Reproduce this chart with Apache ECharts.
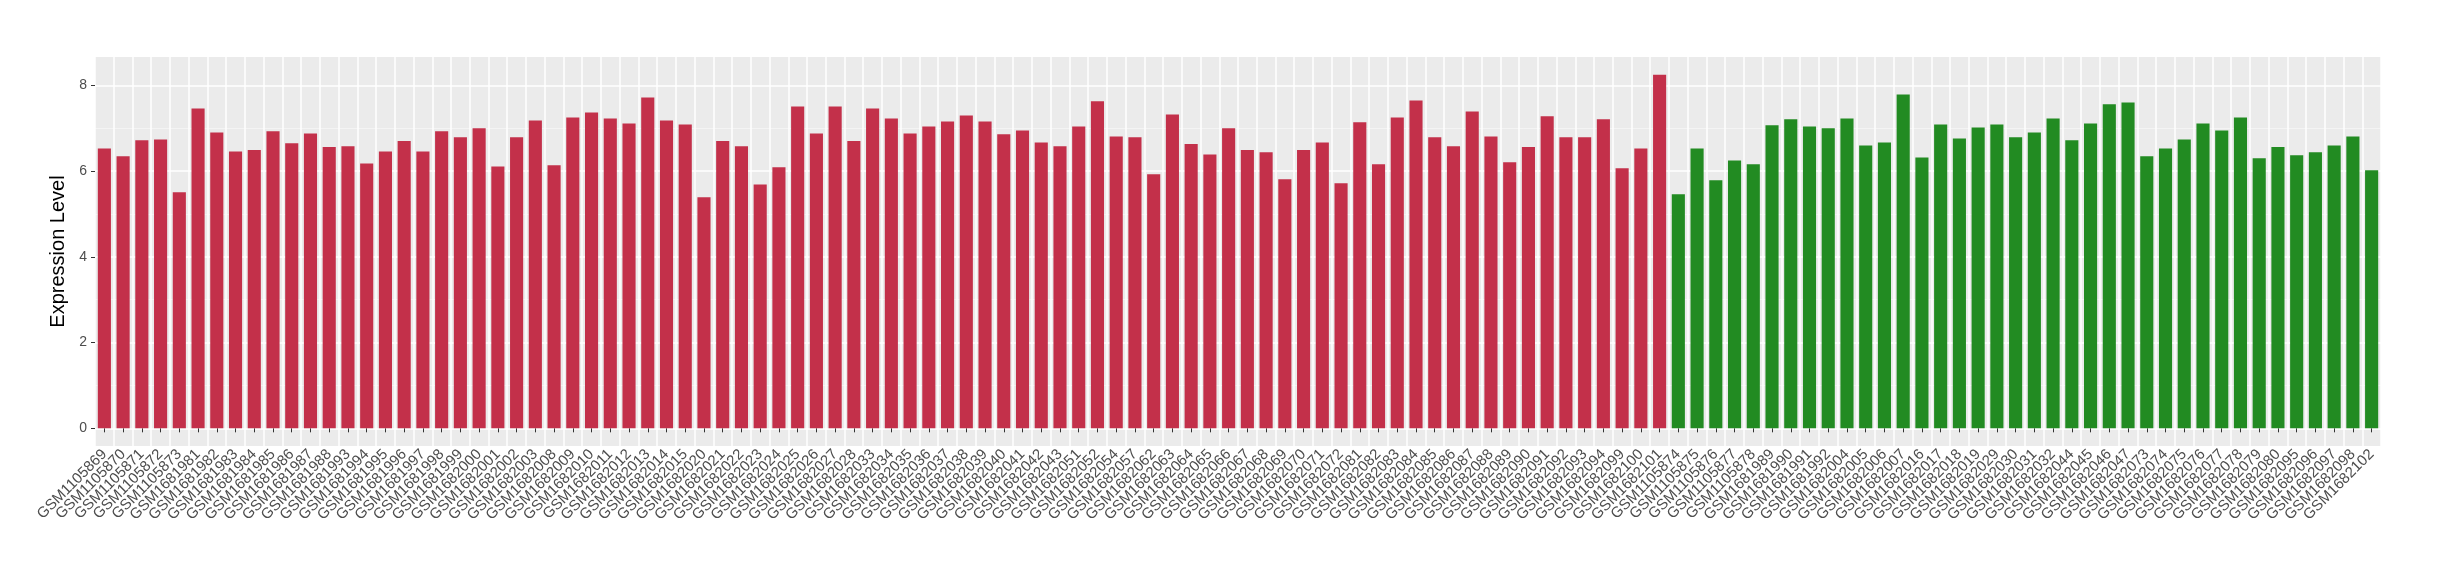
<!DOCTYPE html>
<html>
<head>
<meta charset="utf-8">
<script src="https://cdn.jsdelivr.net/npm/echarts@6/dist/echarts.min.js"></script>
<style>
html,body{margin:0;padding:0;background:#fff;}
#chart{width:2440px;height:580px;}
</style>
</head>
<body>
<div id="chart"></div>
<script>
// Group 1 (red) samples and expression values
const redSamples = ['GSM1105869','GSM1105870','GSM1105871','GSM1105872','GSM1105873','GSM1681981','GSM1681982','GSM1681983','GSM1681984','GSM1681985','GSM1681986','GSM1681987','GSM1681988','GSM1681993','GSM1681994','GSM1681995','GSM1681996','GSM1681997','GSM1681998','GSM1681999','GSM1682000','GSM1682001','GSM1682002','GSM1682003','GSM1682008','GSM1682009','GSM1682010','GSM1682011','GSM1682012','GSM1682013','GSM1682014','GSM1682015','GSM1682020','GSM1682021','GSM1682022','GSM1682023','GSM1682024','GSM1682025','GSM1682026','GSM1682027','GSM1682028','GSM1682033','GSM1682034','GSM1682035','GSM1682036','GSM1682037','GSM1682038','GSM1682039','GSM1682040','GSM1682041','GSM1682042','GSM1682043','GSM1682051','GSM1682052','GSM1682054','GSM1682057','GSM1682062','GSM1682063','GSM1682064','GSM1682065','GSM1682066','GSM1682067','GSM1682068','GSM1682069','GSM1682070','GSM1682071','GSM1682072','GSM1682081','GSM1682082','GSM1682083','GSM1682084','GSM1682085','GSM1682086','GSM1682087','GSM1682088','GSM1682089','GSM1682090','GSM1682091','GSM1682092','GSM1682093','GSM1682094','GSM1682099','GSM1682100','GSM1682101'];
const redValues = [6.53,6.35,6.72,6.74,5.51,7.46,6.90,6.46,6.49,6.93,6.65,6.88,6.56,6.58,6.18,6.46,6.70,6.46,6.93,6.79,7.00,6.11,6.79,7.18,6.14,7.25,7.37,7.23,7.11,7.72,7.18,7.09,5.39,6.70,6.58,5.69,6.09,7.51,6.88,7.51,6.70,7.46,7.23,6.88,7.04,7.16,7.30,7.16,6.86,6.95,6.67,6.58,7.04,7.63,6.81,6.79,5.93,7.32,6.63,6.39,7.00,6.49,6.44,5.81,6.49,6.67,5.72,7.14,6.16,7.25,7.65,6.79,6.58,7.39,6.81,6.21,6.56,7.28,6.79,6.79,7.21,6.07,6.53,8.25];

// Group 2 (green) samples and expression values
const greenSamples = ['GSM1105874','GSM1105875','GSM1105876','GSM1105877','GSM1105878','GSM1681989','GSM1681990','GSM1681991','GSM1681992','GSM1682004','GSM1682005','GSM1682006','GSM1682007','GSM1682016','GSM1682017','GSM1682018','GSM1682019','GSM1682029','GSM1682030','GSM1682031','GSM1682032','GSM1682044','GSM1682045','GSM1682046','GSM1682047','GSM1682073','GSM1682074','GSM1682075','GSM1682076','GSM1682077','GSM1682078','GSM1682079','GSM1682080','GSM1682095','GSM1682096','GSM1682097','GSM1682098','GSM1682102'];
const greenValues = [5.46,6.53,5.79,6.25,6.16,7.07,7.21,7.04,7.00,7.23,6.60,6.67,7.79,6.32,7.09,6.76,7.02,7.09,6.79,6.90,7.23,6.72,7.11,7.56,7.60,6.35,6.53,6.74,7.11,6.95,7.25,6.30,6.56,6.37,6.44,6.60,6.81,6.02];

// Axis tick values
const yMajorTicks = [0, 2, 4, 6, 8];
const yMinorTicks = [1, 3, 5, 7];
const yLabel = 'Expression Level';

const categories = redSamples.concat(greenSamples);
const redData = redValues.concat(greenSamples.map(() => '-'));
const greenData = redSamples.map(() => '-').concat(greenValues);

const dataMax = Math.max(...redValues, ...greenValues);
const yMin = -0.05 * dataMax;
const yMax = dataMax * 1.05;

const FONT = '"Liberation Sans", Arial, Helvetica, sans-serif';

const chart = echarts.init(document.getElementById('chart'), null, {renderer: 'canvas'});
chart.setOption({
  animation: false,
  backgroundColor: '#ffffff',
  grid: {
    left: 95, right: 59, top: 57, bottom: 134,
    show: true, backgroundColor: '#EBEBEB', borderWidth: 0
  },
  xAxis: {
    type: 'category',
    data: categories,
    boundaryGap: true,
    axisLine: {show: false},
    axisTick: {show: true, alignWithLabel: true, length: 4, lineStyle: {color: '#333333', width: 1}},
    splitLine: {show: true, lineStyle: {color: '#ffffff', width: 1.5}},
    axisLabel: {
      interval: 0, rotate: 45, fontSize: 15, color: '#4D4D4D',
      fontFamily: FONT, margin: 6
    }
  },
  yAxis: [{
    type: 'value',
    min: yMin, max: yMax,
    name: yLabel,
    nameLocation: 'middle',
    nameGap: 20,
    nameTextStyle: {fontSize: 20, color: '#000000', fontFamily: FONT},
    axisLine: {show: false},
    axisTick: {show: true, length: 4, customValues: yMajorTicks, lineStyle: {color: '#333333', width: 1}},
    axisLabel: {customValues: yMajorTicks, fontSize: 14, color: '#4D4D4D', fontFamily: FONT, margin: 8},
    splitLine: {show: true, lineStyle: {color: '#ffffff', width: 1.6}}
  }, {
    type: 'value',
    min: yMin, max: yMax,
    position: 'left',
    axisLine: {show: false},
    axisTick: {show: false, customValues: yMinorTicks},
    axisLabel: {show: false, customValues: yMinorTicks},
    splitLine: {show: true, lineStyle: {color: '#F6F6F6', width: 0.8}}
  }],
  series: [{
    type: 'bar',
    name: 'red',
    data: redData,
    yAxisIndex: 0,
    barCategoryGap: '30%',
    barGap: '-100%',
    itemStyle: {color: '#C3304A'}
  }, {
    type: 'bar',
    name: 'green',
    data: greenData,
    yAxisIndex: 0,
    barCategoryGap: '30%',
    barGap: '-100%',
    itemStyle: {color: '#228B22'}
  }]
});
</script>
</body>
</html>
